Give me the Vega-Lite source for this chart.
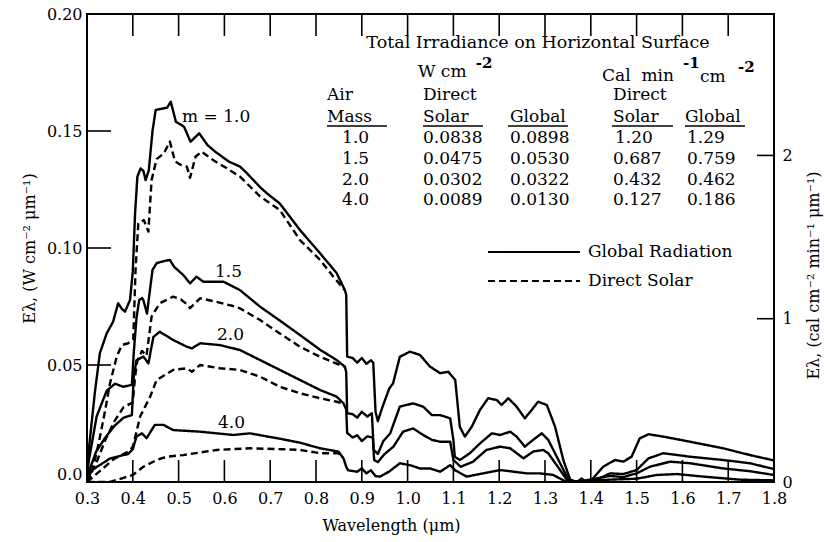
{
  "$schema": "https://vega.github.io/schema/vega-lite/v6.json",
  "width": 687,
  "height": 468,
  "autosize": {"type": "none"},
  "padding": {"left": 87, "top": 14, "right": 53, "bottom": 60},
  "background": "white",
  "config": {
    "font": "DejaVu Serif",
    "view": {"stroke": "black", "strokeWidth": 2},
    "axis": {"grid": false, "domain": false, "labelColor": "black", "titleColor": "black", "labelFont": "DejaVu Serif", "titleFont": "DejaVu Serif", "labelFontSize": 16, "titleFontSize": 16, "titleFontWeight": "normal", "labelFlush": false, "labelOverlap": false}
  },
  "datasets": {
    "curves": [
      {"m":"1.0","kind":"Global","x":0.300,"y":0.000},{"m":"1.0","kind":"Global","x":0.303,"y":0.012},{"m":"1.0","kind":"Global","x":0.310,"y":0.025},{"m":"1.0","kind":"Global","x":0.317,"y":0.038},{"m":"1.0","kind":"Global","x":0.328,"y":0.055},{"m":"1.0","kind":"Global","x":0.343,"y":0.0635},{"m":"1.0","kind":"Global","x":0.357,"y":0.0685},{"m":"1.0","kind":"Global","x":0.368,"y":0.0764},{"m":"1.0","kind":"Global","x":0.376,"y":0.074},{"m":"1.0","kind":"Global","x":0.383,"y":0.0728},{"m":"1.0","kind":"Global","x":0.394,"y":0.0778},{"m":"1.0","kind":"Global","x":0.400,"y":0.090},{"m":"1.0","kind":"Global","x":0.405,"y":0.115},{"m":"1.0","kind":"Global","x":0.410,"y":0.1305},{"m":"1.0","kind":"Global","x":0.417,"y":0.134},{"m":"1.0","kind":"Global","x":0.423,"y":0.133},{"m":"1.0","kind":"Global","x":0.428,"y":0.129},{"m":"1.0","kind":"Global","x":0.435,"y":0.1333},{"m":"1.0","kind":"Global","x":0.443,"y":0.150},{"m":"1.0","kind":"Global","x":0.450,"y":0.159},{"m":"1.0","kind":"Global","x":0.468,"y":0.1597},{"m":"1.0","kind":"Global","x":0.475,"y":0.160},{"m":"1.0","kind":"Global","x":0.483,"y":0.1625},{"m":"1.0","kind":"Global","x":0.494,"y":0.154},{"m":"1.0","kind":"Global","x":0.512,"y":0.1518},{"m":"1.0","kind":"Global","x":0.526,"y":0.1454},{"m":"1.0","kind":"Global","x":0.545,"y":0.149},{"m":"1.0","kind":"Global","x":0.563,"y":0.144},{"m":"1.0","kind":"Global","x":0.581,"y":0.141},{"m":"1.0","kind":"Global","x":0.610,"y":0.1369},{"m":"1.0","kind":"Global","x":0.634,"y":0.1348},{"m":"1.0","kind":"Global","x":0.649,"y":0.132},{"m":"1.0","kind":"Global","x":0.678,"y":0.126},{"m":"1.0","kind":"Global","x":0.692,"y":0.1235},{"m":"1.0","kind":"Global","x":0.721,"y":0.119},{"m":"1.0","kind":"Global","x":0.765,"y":0.1077},{"m":"1.0","kind":"Global","x":0.809,"y":0.0977},{"m":"1.0","kind":"Global","x":0.845,"y":0.0893},{"m":"1.0","kind":"Global","x":0.863,"y":0.082},{"m":"1.0","kind":"Global","x":0.866,"y":0.080},{"m":"1.0","kind":"Global","x":0.868,"y":0.0536},{"m":"1.0","kind":"Global","x":0.880,"y":0.053},{"m":"1.0","kind":"Global","x":0.890,"y":0.051},{"m":"1.0","kind":"Global","x":0.900,"y":0.053},{"m":"1.0","kind":"Global","x":0.910,"y":0.0505},{"m":"1.0","kind":"Global","x":0.920,"y":0.052},{"m":"1.0","kind":"Global","x":0.925,"y":0.051},{"m":"1.0","kind":"Global","x":0.930,"y":0.030},{"m":"1.0","kind":"Global","x":0.935,"y":0.026},{"m":"1.0","kind":"Global","x":0.945,"y":0.032},{"m":"1.0","kind":"Global","x":0.960,"y":0.040},{"m":"1.0","kind":"Global","x":0.968,"y":0.042},{"m":"1.0","kind":"Global","x":0.983,"y":0.0535},{"m":"1.0","kind":"Global","x":1.005,"y":0.0557},{"m":"1.0","kind":"Global","x":1.027,"y":0.0543},{"m":"1.0","kind":"Global","x":1.049,"y":0.0493},{"m":"1.0","kind":"Global","x":1.071,"y":0.0465},{"m":"1.0","kind":"Global","x":1.089,"y":0.0471},{"m":"1.0","kind":"Global","x":1.104,"y":0.0436},{"m":"1.0","kind":"Global","x":1.114,"y":0.0236},{"m":"1.0","kind":"Global","x":1.125,"y":0.0194},{"m":"1.0","kind":"Global","x":1.140,"y":0.0236},{"m":"1.0","kind":"Global","x":1.158,"y":0.0308},{"m":"1.0","kind":"Global","x":1.176,"y":0.0358},{"m":"1.0","kind":"Global","x":1.195,"y":0.035},{"m":"1.0","kind":"Global","x":1.205,"y":0.0329},{"m":"1.0","kind":"Global","x":1.220,"y":0.0358},{"m":"1.0","kind":"Global","x":1.238,"y":0.0322},{"m":"1.0","kind":"Global","x":1.256,"y":0.0272},{"m":"1.0","kind":"Global","x":1.271,"y":0.0308},{"m":"1.0","kind":"Global","x":1.285,"y":0.0343},{"m":"1.0","kind":"Global","x":1.304,"y":0.0329},{"m":"1.0","kind":"Global","x":1.322,"y":0.0236},{"m":"1.0","kind":"Global","x":1.340,"y":0.0094},{"m":"1.0","kind":"Global","x":1.355,"y":0.001},{"m":"1.0","kind":"Global","x":1.370,"y":0.000},{"m":"1.0","kind":"Global","x":1.380,"y":0.0015},{"m":"1.0","kind":"Global","x":1.390,"y":0.000},{"m":"1.0","kind":"Global","x":1.398,"y":0.000},{"m":"1.0","kind":"Global","x":1.427,"y":0.0065},{"m":"1.0","kind":"Global","x":1.453,"y":0.0094},{"m":"1.0","kind":"Global","x":1.471,"y":0.0087},{"m":"1.0","kind":"Global","x":1.489,"y":0.0108},{"m":"1.0","kind":"Global","x":1.507,"y":0.0187},{"m":"1.0","kind":"Global","x":1.526,"y":0.0204},{"m":"1.0","kind":"Global","x":1.558,"y":0.0194},{"m":"1.0","kind":"Global","x":1.617,"y":0.0172},{"m":"1.0","kind":"Global","x":1.689,"y":0.0144},{"m":"1.0","kind":"Global","x":1.748,"y":0.0115},{"m":"1.0","kind":"Global","x":1.800,"y":0.0092},

      {"m":"1.0","kind":"Direct","x":0.300,"y":0.000},{"m":"1.0","kind":"Direct","x":0.307,"y":0.0023},{"m":"1.0","kind":"Direct","x":0.318,"y":0.010},{"m":"1.0","kind":"Direct","x":0.328,"y":0.019},{"m":"1.0","kind":"Direct","x":0.340,"y":0.031},{"m":"1.0","kind":"Direct","x":0.350,"y":0.042},{"m":"1.0","kind":"Direct","x":0.365,"y":0.0536},{"m":"1.0","kind":"Direct","x":0.376,"y":0.0585},{"m":"1.0","kind":"Direct","x":0.390,"y":0.0593},{"m":"1.0","kind":"Direct","x":0.401,"y":0.061},{"m":"1.0","kind":"Direct","x":0.406,"y":0.0906},{"m":"1.0","kind":"Direct","x":0.412,"y":0.1105},{"m":"1.0","kind":"Direct","x":0.424,"y":0.112},{"m":"1.0","kind":"Direct","x":0.434,"y":0.107},{"m":"1.0","kind":"Direct","x":0.441,"y":0.129},{"m":"1.0","kind":"Direct","x":0.452,"y":0.138},{"m":"1.0","kind":"Direct","x":0.468,"y":0.1405},{"m":"1.0","kind":"Direct","x":0.481,"y":0.1455},{"m":"1.0","kind":"Direct","x":0.492,"y":0.137},{"m":"1.0","kind":"Direct","x":0.505,"y":0.1355},{"m":"1.0","kind":"Direct","x":0.518,"y":0.1348},{"m":"1.0","kind":"Direct","x":0.525,"y":0.130},{"m":"1.0","kind":"Direct","x":0.537,"y":0.139},{"m":"1.0","kind":"Direct","x":0.550,"y":0.1412},{"m":"1.0","kind":"Direct","x":0.576,"y":0.1375},{"m":"1.0","kind":"Direct","x":0.610,"y":0.1335},{"m":"1.0","kind":"Direct","x":0.634,"y":0.1305},{"m":"1.0","kind":"Direct","x":0.678,"y":0.122},{"m":"1.0","kind":"Direct","x":0.721,"y":0.1162},{"m":"1.0","kind":"Direct","x":0.765,"y":0.1034},{"m":"1.0","kind":"Direct","x":0.809,"y":0.0949},{"m":"1.0","kind":"Direct","x":0.838,"y":0.0877},{"m":"1.0","kind":"Direct","x":0.863,"y":0.082},

      {"m":"1.5","kind":"Global","x":0.300,"y":0.000},{"m":"1.5","kind":"Global","x":0.303,"y":0.008},{"m":"1.5","kind":"Global","x":0.321,"y":0.028},{"m":"1.5","kind":"Global","x":0.343,"y":0.039},{"m":"1.5","kind":"Global","x":0.361,"y":0.042},{"m":"1.5","kind":"Global","x":0.379,"y":0.0407},{"m":"1.5","kind":"Global","x":0.398,"y":0.0415},{"m":"1.5","kind":"Global","x":0.402,"y":0.055},{"m":"1.5","kind":"Global","x":0.408,"y":0.070},{"m":"1.5","kind":"Global","x":0.414,"y":0.0778},{"m":"1.5","kind":"Global","x":0.420,"y":0.0786},{"m":"1.5","kind":"Global","x":0.423,"y":0.0778},{"m":"1.5","kind":"Global","x":0.431,"y":0.072},{"m":"1.5","kind":"Global","x":0.443,"y":0.0906},{"m":"1.5","kind":"Global","x":0.452,"y":0.0935},{"m":"1.5","kind":"Global","x":0.470,"y":0.0945},{"m":"1.5","kind":"Global","x":0.481,"y":0.0949},{"m":"1.5","kind":"Global","x":0.490,"y":0.092},{"m":"1.5","kind":"Global","x":0.510,"y":0.0885},{"m":"1.5","kind":"Global","x":0.525,"y":0.0849},{"m":"1.5","kind":"Global","x":0.539,"y":0.0877},{"m":"1.5","kind":"Global","x":0.554,"y":0.0856},{"m":"1.5","kind":"Global","x":0.598,"y":0.0856},{"m":"1.5","kind":"Global","x":0.619,"y":0.0835},{"m":"1.5","kind":"Global","x":0.634,"y":0.082},{"m":"1.5","kind":"Global","x":0.678,"y":0.0749},{"m":"1.5","kind":"Global","x":0.721,"y":0.069},{"m":"1.5","kind":"Global","x":0.765,"y":0.0628},{"m":"1.5","kind":"Global","x":0.809,"y":0.0565},{"m":"1.5","kind":"Global","x":0.845,"y":0.0521},{"m":"1.5","kind":"Global","x":0.863,"y":0.0493},{"m":"1.5","kind":"Global","x":0.866,"y":0.047},{"m":"1.5","kind":"Global","x":0.868,"y":0.0294},{"m":"1.5","kind":"Global","x":0.880,"y":0.029},{"m":"1.5","kind":"Global","x":0.890,"y":0.0275},{"m":"1.5","kind":"Global","x":0.900,"y":0.030},{"m":"1.5","kind":"Global","x":0.912,"y":0.028},{"m":"1.5","kind":"Global","x":0.922,"y":0.0294},{"m":"1.5","kind":"Global","x":0.926,"y":0.0137},{"m":"1.5","kind":"Global","x":0.935,"y":0.012},{"m":"1.5","kind":"Global","x":0.947,"y":0.0175},{"m":"1.5","kind":"Global","x":0.962,"y":0.0208},{"m":"1.5","kind":"Global","x":0.983,"y":0.0322},{"m":"1.5","kind":"Global","x":1.012,"y":0.0336},{"m":"1.5","kind":"Global","x":1.034,"y":0.0322},{"m":"1.5","kind":"Global","x":1.053,"y":0.0286},{"m":"1.5","kind":"Global","x":1.071,"y":0.0286},{"m":"1.5","kind":"Global","x":1.093,"y":0.0272},{"m":"1.5","kind":"Global","x":1.100,"y":0.018},{"m":"1.5","kind":"Global","x":1.103,"y":0.0108},{"m":"1.5","kind":"Global","x":1.114,"y":0.0094},{"m":"1.5","kind":"Global","x":1.136,"y":0.0123},{"m":"1.5","kind":"Global","x":1.158,"y":0.0165},{"m":"1.5","kind":"Global","x":1.184,"y":0.0208},{"m":"1.5","kind":"Global","x":1.202,"y":0.0201},{"m":"1.5","kind":"Global","x":1.224,"y":0.0215},{"m":"1.5","kind":"Global","x":1.238,"y":0.0194},{"m":"1.5","kind":"Global","x":1.256,"y":0.0151},{"m":"1.5","kind":"Global","x":1.274,"y":0.018},{"m":"1.5","kind":"Global","x":1.293,"y":0.0208},{"m":"1.5","kind":"Global","x":1.307,"y":0.018},{"m":"1.5","kind":"Global","x":1.333,"y":0.008},{"m":"1.5","kind":"Global","x":1.351,"y":0.001},{"m":"1.5","kind":"Global","x":1.370,"y":0.000},{"m":"1.5","kind":"Global","x":1.413,"y":0.001},{"m":"1.5","kind":"Global","x":1.442,"y":0.0037},{"m":"1.5","kind":"Global","x":1.471,"y":0.0034},{"m":"1.5","kind":"Global","x":1.500,"y":0.0051},{"m":"1.5","kind":"Global","x":1.526,"y":0.0101},{"m":"1.5","kind":"Global","x":1.558,"y":0.0123},{"m":"1.5","kind":"Global","x":1.617,"y":0.0108},{"m":"1.5","kind":"Global","x":1.689,"y":0.0094},{"m":"1.5","kind":"Global","x":1.748,"y":0.008},{"m":"1.5","kind":"Global","x":1.800,"y":0.0055},

      {"m":"1.5","kind":"Direct","x":0.300,"y":0.000},{"m":"1.5","kind":"Direct","x":0.320,"y":0.008},{"m":"1.5","kind":"Direct","x":0.340,"y":0.018},{"m":"1.5","kind":"Direct","x":0.360,"y":0.026},{"m":"1.5","kind":"Direct","x":0.380,"y":0.032},{"m":"1.5","kind":"Direct","x":0.400,"y":0.034},{"m":"1.5","kind":"Direct","x":0.405,"y":0.045},{"m":"1.5","kind":"Direct","x":0.410,"y":0.052},{"m":"1.5","kind":"Direct","x":0.420,"y":0.056},{"m":"1.5","kind":"Direct","x":0.430,"y":0.054},{"m":"1.5","kind":"Direct","x":0.441,"y":0.0707},{"m":"1.5","kind":"Direct","x":0.459,"y":0.0764},{"m":"1.5","kind":"Direct","x":0.488,"y":0.0792},{"m":"1.5","kind":"Direct","x":0.505,"y":0.078},{"m":"1.5","kind":"Direct","x":0.518,"y":0.076},{"m":"1.5","kind":"Direct","x":0.525,"y":0.0743},{"m":"1.5","kind":"Direct","x":0.547,"y":0.0785},{"m":"1.5","kind":"Direct","x":0.583,"y":0.077},{"m":"1.5","kind":"Direct","x":0.619,"y":0.0752},{"m":"1.5","kind":"Direct","x":0.634,"y":0.0742},{"m":"1.5","kind":"Direct","x":0.678,"y":0.0692},{"m":"1.5","kind":"Direct","x":0.721,"y":0.0635},{"m":"1.5","kind":"Direct","x":0.765,"y":0.0578},{"m":"1.5","kind":"Direct","x":0.809,"y":0.0535},{"m":"1.5","kind":"Direct","x":0.852,"y":0.050},{"m":"1.5","kind":"Direct","x":0.863,"y":0.0493},

      {"m":"2.0","kind":"Global","x":0.300,"y":0.000},{"m":"2.0","kind":"Global","x":0.305,"y":0.005},{"m":"2.0","kind":"Global","x":0.320,"y":0.013},{"m":"2.0","kind":"Global","x":0.340,"y":0.019},{"m":"2.0","kind":"Global","x":0.360,"y":0.024},{"m":"2.0","kind":"Global","x":0.380,"y":0.0275},{"m":"2.0","kind":"Global","x":0.398,"y":0.0286},{"m":"2.0","kind":"Global","x":0.402,"y":0.045},{"m":"2.0","kind":"Global","x":0.408,"y":0.052},{"m":"2.0","kind":"Global","x":0.423,"y":0.0536},{"m":"2.0","kind":"Global","x":0.434,"y":0.0507},{"m":"2.0","kind":"Global","x":0.445,"y":0.062},{"m":"2.0","kind":"Global","x":0.459,"y":0.0642},{"m":"2.0","kind":"Global","x":0.488,"y":0.0607},{"m":"2.0","kind":"Global","x":0.518,"y":0.0578},{"m":"2.0","kind":"Global","x":0.529,"y":0.0571},{"m":"2.0","kind":"Global","x":0.547,"y":0.0593},{"m":"2.0","kind":"Global","x":0.590,"y":0.0585},{"m":"2.0","kind":"Global","x":0.634,"y":0.0564},{"m":"2.0","kind":"Global","x":0.678,"y":0.0521},{"m":"2.0","kind":"Global","x":0.721,"y":0.0479},{"m":"2.0","kind":"Global","x":0.765,"y":0.0436},{"m":"2.0","kind":"Global","x":0.809,"y":0.0393},{"m":"2.0","kind":"Global","x":0.845,"y":0.0365},{"m":"2.0","kind":"Global","x":0.860,"y":0.0336},{"m":"2.0","kind":"Global","x":0.866,"y":0.031},{"m":"2.0","kind":"Global","x":0.868,"y":0.021},{"m":"2.0","kind":"Global","x":0.880,"y":0.019},{"m":"2.0","kind":"Global","x":0.890,"y":0.020},{"m":"2.0","kind":"Global","x":0.900,"y":0.0175},{"m":"2.0","kind":"Global","x":0.912,"y":0.0195},{"m":"2.0","kind":"Global","x":0.924,"y":0.019},{"m":"2.0","kind":"Global","x":0.927,"y":0.0094},{"m":"2.0","kind":"Global","x":0.935,"y":0.0085},{"m":"2.0","kind":"Global","x":0.950,"y":0.012},{"m":"2.0","kind":"Global","x":0.969,"y":0.0151},{"m":"2.0","kind":"Global","x":0.990,"y":0.0215},{"m":"2.0","kind":"Global","x":1.012,"y":0.0229},{"m":"2.0","kind":"Global","x":1.034,"y":0.0201},{"m":"2.0","kind":"Global","x":1.053,"y":0.018},{"m":"2.0","kind":"Global","x":1.071,"y":0.0172},{"m":"2.0","kind":"Global","x":1.093,"y":0.0172},{"m":"2.0","kind":"Global","x":1.100,"y":0.0094},{"m":"2.0","kind":"Global","x":1.116,"y":0.0065},{"m":"2.0","kind":"Global","x":1.143,"y":0.0087},{"m":"2.0","kind":"Global","x":1.172,"y":0.0137},{"m":"2.0","kind":"Global","x":1.202,"y":0.0151},{"m":"2.0","kind":"Global","x":1.224,"y":0.0144},{"m":"2.0","kind":"Global","x":1.253,"y":0.0101},{"m":"2.0","kind":"Global","x":1.274,"y":0.013},{"m":"2.0","kind":"Global","x":1.296,"y":0.0137},{"m":"2.0","kind":"Global","x":1.307,"y":0.0123},{"m":"2.0","kind":"Global","x":1.333,"y":0.0051},{"m":"2.0","kind":"Global","x":1.351,"y":0.000},{"m":"2.0","kind":"Global","x":1.370,"y":0.000},{"m":"2.0","kind":"Global","x":1.442,"y":0.0026},{"m":"2.0","kind":"Global","x":1.471,"y":0.0021},{"m":"2.0","kind":"Global","x":1.500,"y":0.0037},{"m":"2.0","kind":"Global","x":1.529,"y":0.0065},{"m":"2.0","kind":"Global","x":1.573,"y":0.0087},{"m":"2.0","kind":"Global","x":1.617,"y":0.008},{"m":"2.0","kind":"Global","x":1.689,"y":0.0058},{"m":"2.0","kind":"Global","x":1.748,"y":0.0046},{"m":"2.0","kind":"Global","x":1.800,"y":0.003},

      {"m":"2.0","kind":"Direct","x":0.300,"y":0.000},{"m":"2.0","kind":"Direct","x":0.330,"y":0.005},{"m":"2.0","kind":"Direct","x":0.360,"y":0.010},{"m":"2.0","kind":"Direct","x":0.390,"y":0.013},{"m":"2.0","kind":"Direct","x":0.400,"y":0.015},{"m":"2.0","kind":"Direct","x":0.416,"y":0.028},{"m":"2.0","kind":"Direct","x":0.438,"y":0.0365},{"m":"2.0","kind":"Direct","x":0.452,"y":0.0436},{"m":"2.0","kind":"Direct","x":0.488,"y":0.0479},{"m":"2.0","kind":"Direct","x":0.518,"y":0.0486},{"m":"2.0","kind":"Direct","x":0.529,"y":0.0471},{"m":"2.0","kind":"Direct","x":0.547,"y":0.050},{"m":"2.0","kind":"Direct","x":0.590,"y":0.0486},{"m":"2.0","kind":"Direct","x":0.634,"y":0.0479},{"m":"2.0","kind":"Direct","x":0.678,"y":0.045},{"m":"2.0","kind":"Direct","x":0.721,"y":0.0407},{"m":"2.0","kind":"Direct","x":0.765,"y":0.0379},{"m":"2.0","kind":"Direct","x":0.809,"y":0.0358},{"m":"2.0","kind":"Direct","x":0.845,"y":0.0343},{"m":"2.0","kind":"Direct","x":0.860,"y":0.0336},

      {"m":"4.0","kind":"Global","x":0.300,"y":0.000},{"m":"4.0","kind":"Global","x":0.310,"y":0.005},{"m":"4.0","kind":"Global","x":0.350,"y":0.010},{"m":"4.0","kind":"Global","x":0.390,"y":0.012},{"m":"4.0","kind":"Global","x":0.400,"y":0.014},{"m":"4.0","kind":"Global","x":0.408,"y":0.0194},{"m":"4.0","kind":"Global","x":0.420,"y":0.0208},{"m":"4.0","kind":"Global","x":0.430,"y":0.0187},{"m":"4.0","kind":"Global","x":0.448,"y":0.0244},{"m":"4.0","kind":"Global","x":0.467,"y":0.0244},{"m":"4.0","kind":"Global","x":0.488,"y":0.0222},{"m":"4.0","kind":"Global","x":0.547,"y":0.0215},{"m":"4.0","kind":"Global","x":0.619,"y":0.0201},{"m":"4.0","kind":"Global","x":0.656,"y":0.0208},{"m":"4.0","kind":"Global","x":0.678,"y":0.020},{"m":"4.0","kind":"Global","x":0.721,"y":0.0185},{"m":"4.0","kind":"Global","x":0.765,"y":0.0168},{"m":"4.0","kind":"Global","x":0.809,"y":0.0144},{"m":"4.0","kind":"Global","x":0.849,"y":0.013},{"m":"4.0","kind":"Global","x":0.860,"y":0.0101},{"m":"4.0","kind":"Global","x":0.866,"y":0.0065},{"m":"4.0","kind":"Global","x":0.870,"y":0.005},{"m":"4.0","kind":"Global","x":0.890,"y":0.0044},{"m":"4.0","kind":"Global","x":0.900,"y":0.0058},{"m":"4.0","kind":"Global","x":0.910,"y":0.0037},{"m":"4.0","kind":"Global","x":0.920,"y":0.005},{"m":"4.0","kind":"Global","x":0.930,"y":0.0025},{"m":"4.0","kind":"Global","x":0.940,"y":0.0023},{"m":"4.0","kind":"Global","x":0.960,"y":0.0045},{"m":"4.0","kind":"Global","x":0.983,"y":0.008},{"m":"4.0","kind":"Global","x":1.005,"y":0.0072},{"m":"4.0","kind":"Global","x":1.027,"y":0.0058},{"m":"4.0","kind":"Global","x":1.049,"y":0.0058},{"m":"4.0","kind":"Global","x":1.071,"y":0.0044},{"m":"4.0","kind":"Global","x":1.093,"y":0.0072},{"m":"4.0","kind":"Global","x":1.104,"y":0.005},{"m":"4.0","kind":"Global","x":1.129,"y":0.0023},{"m":"4.0","kind":"Global","x":1.165,"y":0.0037},{"m":"4.0","kind":"Global","x":1.202,"y":0.0051},{"m":"4.0","kind":"Global","x":1.231,"y":0.0044},{"m":"4.0","kind":"Global","x":1.260,"y":0.0037},{"m":"4.0","kind":"Global","x":1.289,"y":0.0037},{"m":"4.0","kind":"Global","x":1.318,"y":0.003},{"m":"4.0","kind":"Global","x":1.347,"y":0.000},{"m":"4.0","kind":"Global","x":1.442,"y":0.001},{"m":"4.0","kind":"Global","x":1.500,"y":0.0014},{"m":"4.0","kind":"Global","x":1.544,"y":0.003},{"m":"4.0","kind":"Global","x":1.588,"y":0.0034},{"m":"4.0","kind":"Global","x":1.646,"y":0.0023},{"m":"4.0","kind":"Global","x":1.726,"y":0.001},{"m":"4.0","kind":"Global","x":1.800,"y":0.0007},

      {"m":"4.0","kind":"Direct","x":0.300,"y":0.000},{"m":"4.0","kind":"Direct","x":0.350,"y":0.000},{"m":"4.0","kind":"Direct","x":0.400,"y":0.003},{"m":"4.0","kind":"Direct","x":0.423,"y":0.0065},{"m":"4.0","kind":"Direct","x":0.452,"y":0.0094},{"m":"4.0","kind":"Direct","x":0.474,"y":0.0108},{"m":"4.0","kind":"Direct","x":0.510,"y":0.0115},{"m":"4.0","kind":"Direct","x":0.583,"y":0.0137},{"m":"4.0","kind":"Direct","x":0.656,"y":0.0144},{"m":"4.0","kind":"Direct","x":0.728,"y":0.014},{"m":"4.0","kind":"Direct","x":0.765,"y":0.0137},{"m":"4.0","kind":"Direct","x":0.809,"y":0.0123},{"m":"4.0","kind":"Direct","x":0.849,"y":0.0123},{"m":"4.0","kind":"Direct","x":0.860,"y":0.0101}
    ],
    "labels": [
      {"text":"Total Irradiance on Horizontal Surface","x":1.2847,"y":0.1876,"role":"center"},
      {"text":"W cm","x":1.0227,"y":0.1752,"role":"left"},
      {"text":"-2","x":1.149,"y":0.1791,"role":"sup"},
      {"text":"Cal\u00a0\u00a0min","x":1.4245,"y":0.1735,"role":"left"},
      {"text":"-1","x":1.6013,"y":0.1791,"role":"sup"},
      {"text":"cm","x":1.6384,"y":0.1731,"role":"left"},
      {"text":"-2","x":1.7214,"y":0.1774,"role":"sup"},
      {"text":"Air","x":0.824,"y":0.1654,"role":"left"},
      {"text":"Mass","x":0.824,"y":0.1561,"role":"left"},
      {"text":"Direct","x":1.0336,"y":0.1654,"role":"left"},
      {"text":"Solar","x":1.0336,"y":0.1561,"role":"left"},
      {"text":"Global","x":1.2236,"y":0.1561,"role":"left"},
      {"text":"Direct","x":1.4485,"y":0.1654,"role":"left"},
      {"text":"Solar","x":1.4485,"y":0.1561,"role":"left"},
      {"text":"Global","x":1.6057,"y":0.1561,"role":"left"},
      {"text":"1.0","x":0.857,"y":0.1470,"role":"left"},
      {"text":"0.0838","x":1.0336,"y":0.1470,"role":"left"},
      {"text":"0.0898","x":1.2236,"y":0.1470,"role":"left"},
      {"text":"1.20","x":1.4528,"y":0.1470,"role":"left"},
      {"text":"1.29","x":1.6100,"y":0.1470,"role":"left"},
      {"text":"1.5","x":0.857,"y":0.1380,"role":"left"},
      {"text":"0.0475","x":1.0336,"y":0.1380,"role":"left"},
      {"text":"0.0530","x":1.2236,"y":0.1380,"role":"left"},
      {"text":"0.687","x":1.4485,"y":0.1380,"role":"left"},
      {"text":"0.759","x":1.6100,"y":0.1380,"role":"left"},
      {"text":"2.0","x":0.857,"y":0.1291,"role":"left"},
      {"text":"0.0302","x":1.0336,"y":0.1291,"role":"left"},
      {"text":"0.0322","x":1.2236,"y":0.1291,"role":"left"},
      {"text":"0.432","x":1.4485,"y":0.1291,"role":"left"},
      {"text":"0.462","x":1.6100,"y":0.1291,"role":"left"},
      {"text":"4.0","x":0.857,"y":0.1205,"role":"left"},
      {"text":"0.0089","x":1.0336,"y":0.1205,"role":"left"},
      {"text":"0.0130","x":1.2236,"y":0.1205,"role":"left"},
      {"text":"0.127","x":1.4485,"y":0.1205,"role":"left"},
      {"text":"0.186","x":1.6100,"y":0.1205,"role":"left"},
      {"text":"m = 1.0","x":0.5074,"y":0.156,"role":"left"},
      {"text":"1.5","x":0.5795,"y":0.0897,"role":"left"},
      {"text":"2.0","x":0.5838,"y":0.0628,"role":"left"},
      {"text":"4.0","x":0.586,"y":0.0252,"role":"left"},
      {"text":"Global Radiation","x":1.3939,"y":0.0983,"role":"left"},
      {"text":"Direct Solar","x":1.3939,"y":0.0859,"role":"left"}
    ],
    "underlines": [
      {"x":0.824,"x2":0.955,"y":0.1521},
      {"x":1.0336,"x2":1.1646,"y":0.1521},
      {"x":1.2192,"x2":1.3502,"y":0.1521},
      {"x":1.4463,"x2":1.5795,"y":0.1521},
      {"x":1.6057,"x2":1.7367,"y":0.1521}
    ],
    "legend": [
      {"kind":"Global","x":1.1755,"x2":1.3764,"y":0.0983},
      {"kind":"Direct","x":1.1755,"x2":1.3764,"y":0.0859}
    ],
    "ticks": [
      {"x":0.4,"x2":0.4,"y":0,"y2":0.0094},{"x":0.5,"x2":0.5,"y":0,"y2":0.0094},{"x":0.6,"x2":0.6,"y":0,"y2":0.0094},{"x":0.7,"x2":0.7,"y":0,"y2":0.0094},{"x":0.8,"x2":0.8,"y":0,"y2":0.0094},{"x":0.9,"x2":0.9,"y":0,"y2":0.0094},{"x":1.0,"x2":1.0,"y":0,"y2":0.0094},{"x":1.1,"x2":1.1,"y":0,"y2":0.0094},{"x":1.2,"x2":1.2,"y":0,"y2":0.0094},{"x":1.3,"x2":1.3,"y":0,"y2":0.0094},{"x":1.4,"x2":1.4,"y":0,"y2":0.0094},{"x":1.5,"x2":1.5,"y":0,"y2":0.0094},{"x":1.6,"x2":1.6,"y":0,"y2":0.0094},{"x":1.7,"x2":1.7,"y":0,"y2":0.0094},
      {"x":0.4,"x2":0.4,"y":0.2,"y2":0.1906},{"x":0.5,"x2":0.5,"y":0.2,"y2":0.1906},{"x":0.6,"x2":0.6,"y":0.2,"y2":0.1906},{"x":0.7,"x2":0.7,"y":0.2,"y2":0.1906},{"x":0.8,"x2":0.8,"y":0.2,"y2":0.1906},{"x":0.9,"x2":0.9,"y":0.2,"y2":0.1906},{"x":1.0,"x2":1.0,"y":0.2,"y2":0.1906},{"x":1.1,"x2":1.1,"y":0.2,"y2":0.1906},{"x":1.2,"x2":1.2,"y":0.2,"y2":0.1906},{"x":1.3,"x2":1.3,"y":0.2,"y2":0.1906},{"x":1.4,"x2":1.4,"y":0.2,"y2":0.1906},{"x":1.5,"x2":1.5,"y":0.2,"y2":0.1906},{"x":1.6,"x2":1.6,"y":0.2,"y2":0.1906},{"x":1.7,"x2":1.7,"y":0.2,"y2":0.1906},
      {"x":0.3,"x2":0.3524,"y":0.05,"y2":0.05},{"x":0.3,"x2":0.3524,"y":0.10,"y2":0.10},{"x":0.3,"x2":0.3524,"y":0.15,"y2":0.15},
      {"x":1.7629,"x2":1.8,"y":0.06978,"y2":0.06978},{"x":1.7629,"x2":1.8,"y":0.13956,"y2":0.13956}
    ],
    "calrange": [{"cal":0},{"cal":2.866}]
  },
  "layer": [
    {
      "layer": [
        {
          "data": {"name":"curves"},
          "mark": {"type":"line","color":"black","strokeWidth":2.4,"strokeJoin":"round","clip":true},
          "encoding": {
            "x": {"field":"x","type":"quantitative","scale":{"domain":[0.3,1.8],"nice":false,"zero":false},
              "axis":{"orient":"bottom","ticks":false,"values":[0.3,0.4,0.5,0.6,0.7,0.8,0.9,1.0,1.1,1.2,1.3,1.4,1.5,1.6,1.7,1.8],"format":".1f","labelPadding":8,"title":"Wavelength (\u03bcm)","titleX":304,"titleY":43,"titleBaseline":"middle","titleAnchor":"middle","titleAlign":"center"}},
            "y": {"field":"y","type":"quantitative","scale":{"domain":[0,0.2],"nice":false,"zero":false},
              "axis":{"orient":"left","ticks":false,"values":[0,0.05,0.1,0.15,0.2],"labelExpr":"datum.value == 0 ? '0.0' : format(datum.value, '.2f')","labelPadding":5,"labelBaseline":{"condition":{"test":"datum.value == 0","value":"bottom"},"value":"middle"},"title":"E\u03bb, (W cm\u207b\u00b2 \u03bcm\u207b\u00b9)","titleAngle":-90,"titleX":-58,"titleY":234,"titleAlign":"center","titleBaseline":"middle"}},
            "detail": {"field":"m"},
            "strokeDash": {"field":"kind","type":"nominal","scale":{"domain":["Global","Direct"],"range":[[1,0],[7,4]]},"legend":null}
          }
        },
        {
          "data": {"name":"ticks"},
          "mark": {"type":"rule","color":"black","strokeWidth":1.6},
          "encoding": {
            "x": {"field":"x","type":"quantitative"},
            "x2": {"field":"x2"},
            "y": {"field":"y","type":"quantitative"},
            "y2": {"field":"y2"}
          }
        },
        {
          "data": {"name":"legend"},
          "mark": {"type":"rule","color":"black","strokeWidth":2.2},
          "encoding": {
            "x": {"field":"x","type":"quantitative"},
            "x2": {"field":"x2"},
            "y": {"field":"y","type":"quantitative"},
            "strokeDash": {"field":"kind","type":"nominal","legend":null}
          }
        },
        {
          "data": {"name":"underlines"},
          "mark": {"type":"rule","color":"black","strokeWidth":1.5},
          "encoding": {"x": {"field":"x","type":"quantitative"}, "x2": {"field":"x2"}, "y": {"field":"y","type":"quantitative"}}
        },
        {
          "data": {"name":"labels"},
          "transform": [{"filter":"datum.role == 'left'"}],
          "mark": {"type":"text","align":"left","baseline":"middle","font":"DejaVu Serif","fontSize":17,"color":"black"},
          "encoding": {"x": {"field":"x","type":"quantitative"}, "y": {"field":"y","type":"quantitative"}, "text": {"field":"text"}}
        },
        {
          "data": {"name":"labels"},
          "transform": [{"filter":"datum.role == 'center'"}],
          "mark": {"type":"text","align":"center","baseline":"middle","font":"DejaVu Serif","fontSize":17.5,"color":"black"},
          "encoding": {"x": {"field":"x","type":"quantitative"}, "y": {"field":"y","type":"quantitative"}, "text": {"field":"text"}}
        },
        {
          "data": {"name":"labels"},
          "transform": [{"filter":"datum.role == 'sup'"}],
          "mark": {"type":"text","align":"left","baseline":"middle","font":"DejaVu Serif","fontSize":15,"fontWeight":"bold","color":"black"},
          "encoding": {"x": {"field":"x","type":"quantitative"}, "y": {"field":"y","type":"quantitative"}, "text": {"field":"text"}}
        }
      ]
    },
    {
      "data": {"name":"calrange"},
      "mark": {"type":"rule","opacity":0},
      "encoding": {
        "y": {"field":"cal","type":"quantitative","scale":{"domain":[0,2.866],"nice":false,"zero":false},
          "axis":{"orient":"right","ticks":false,"values":[0,1,2],"format":"d","labelPadding":8,"title":"E\u03bb, (cal cm\u207b\u00b2 min\u207b\u00b9 \u03bcm\u207b\u00b9)","titleAngle":-90,"titleX":39,"titleY":261,"titleAlign":"center","titleBaseline":"middle"}}
      }
    }
  ],
  "resolve": {"scale": {"y":"independent"}}
}
